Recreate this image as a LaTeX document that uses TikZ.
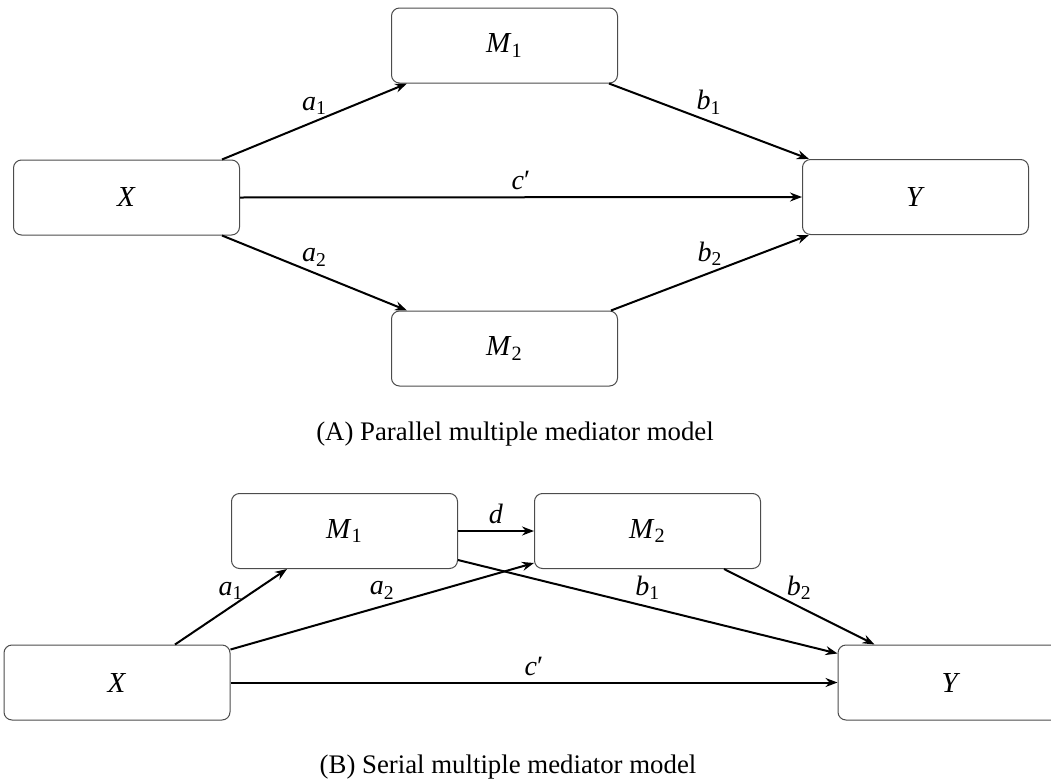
\documentclass[tikz,border=0pt]{standalone}
\usepackage{fontspec}
\setmainfont{Liberation Serif}
\usetikzlibrary{arrows.meta}
\newcommand{\var}[2]{\textit{#1}\textsubscript{#2}}
\begin{document}
\begin{tikzpicture}[x=0.5pt, y=-0.5pt,
			box/.style={draw=black!70, line width=0.5pt, rounded corners=4pt,
				minimum width=113pt, minimum height=37.5pt,
				font=\fontsize{14.5}{17}\selectfont},
			effect/.style={-{Stealth[length=6pt, width=4.5pt, inset=2pt]}, line width=1pt},
			coef/.style={midway, above=2pt, inner sep=1pt, font=\fontsize{14}{17}\selectfont},
			capt/.style={font=\fontsize{13.4}{16}\selectfont}]
			
			\useasboundingbox (0,0) rectangle (1051,782);
			
			% (A) parallel model
			\node[box] (xa) at (126.5,197.5) {\textit{X}};
			\node[box] (m1a) at (504.5,45.5) {\var{M}{1}};
			\node[box] (m2a) at (504.5,348.5) {\var{M}{2}};
			\node[box] (ya) at (915.5,197) {\textit{Y}};
			
			\draw[effect] ([xshift=-9pt]xa.north east) -- node[coef] {\var{a}{1}} ([xshift=8pt]m1a.south west);
			\draw[effect] ([xshift=-9pt]xa.south east) -- node[coef] {\var{a}{2}} ([xshift=8pt]m2a.north west);
			\draw[effect] ([xshift=-4.5pt]m1a.south east) -- node[coef] {\var{b}{1}} ([xshift=3.5pt]ya.north west);
			\draw[effect] ([xshift=-3.5pt]m2a.north east) -- node[coef] {\var{b}{2}} ([xshift=3.5pt]ya.south west);
			\draw[effect] (xa.east) -- node[coef] {\textit{c}′} (ya.west);
			
			\node[capt] (capa) at (515,434) {(A) Parallel multiple mediator model};
			
			% (B) serial model
			\node[box] (xb) at (117,682.5) {\textit{X}};
			\node[box] (m1b) at (344.5,531) {\var{M}{1}};
			\node[box] (m2b) at (647.5,531) {\var{M}{2}};
			\node[box] (yb) at (951,682.5) {\textit{Y}};
			
			\draw[effect] (m1b.east) -- node[coef] {\textit{d}} (m2b.west);
			\draw[effect] ([xshift=29pt]xb.north) -- node[coef] {\var{a}{1}} ([xshift=28pt]m1b.south west);
			\draw[effect] ([yshift=-2.5pt]xb.north east) -- node[coef] {\var{a}{2}} ([yshift=3pt]m2b.south west);
			\draw[effect] ([yshift=4.5pt]m1b.south east) -- node[coef] {\var{b}{1}} ([yshift=-4.5pt]yb.north west);
			\draw[effect] ([xshift=-18.5pt]m2b.south east) -- node[coef] {\var{b}{2}} ([xshift=18.5pt]yb.north west);
			\draw[effect] (xb.east) -- node[coef] {\textit{c}′} (yb.west);
			
			\node[capt] (capb) at (508,767) {(B) Serial multiple mediator model};
		\end{tikzpicture}
\end{document}
